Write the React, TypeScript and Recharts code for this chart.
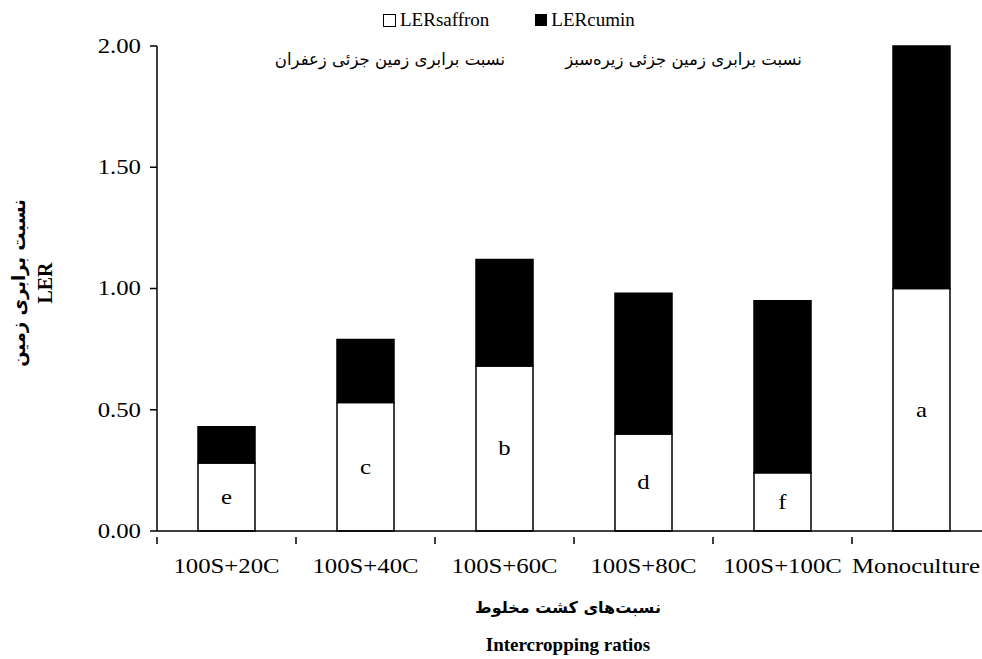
import { Bar, BarChart, LabelList, XAxis, YAxis } from "recharts";

const CATEGORIES = [
  "100S+20C",
  "100S+40C",
  "100S+60C",
  "100S+80C",
  "100S+100C",
  "Monoculture",
];
const LER_SAFFRON = [0.28, 0.53, 0.68, 0.4, 0.24, 1.0];
const LER_CUMIN = [0.15, 0.26, 0.44, 0.58, 0.71, 1.0];
const LETTERS = ["e", "c", "b", "d", "f", "a"];
const Y_TICKS = [0, 0.5, 1, 1.5, 2];

const SERIF = '"Liberation Serif", "Times New Roman", serif';
const PERSIAN = '"DejaVu Sans", "Noto Sans", sans-serif';
// the original figure is stretched sideways a little
const STRETCH = 1.18;
const VISIBLE_WIDTH = 982;

const data = CATEGORIES.map((name, i) => ({
  name,
  saffron: LER_SAFFRON[i],
  cumin: LER_CUMIN[i],
  letter: LETTERS[i],
}));

function WideText({ x, y, anchor, children }: any) {
  return (
    <g transform={`translate(${x},${y}) scale(${STRETCH},1)`}>
      <text
        x={0}
        y={0}
        textAnchor={anchor}
        dominantBaseline="central"
        fontFamily={SERIF}
        fontSize={21}
        fill="#000"
      >
        {children}
      </text>
    </g>
  );
}

// category label centred, tick mark drawn on the left edge of each band
function XTick(props: any) {
  const { x, y, payload, index } = props;
  const half = payload?.offset ?? 69.5;
  const last = index === CATEGORIES.length - 1;
  return (
    <g>
      <line
        x1={x - half}
        x2={x - half}
        y1={y - 2}
        y2={y + 5}
        stroke="#000"
        strokeWidth={1.5}
      />
      {last ? (
        <WideText x={VISIBLE_WIDTH - 2} y={y + 27} anchor="end">
          {payload.value}
        </WideText>
      ) : (
        <WideText x={x} y={y + 27} anchor="middle">
          {payload.value}
        </WideText>
      )}
    </g>
  );
}

function YTick(props: any) {
  const { x, y, payload } = props;
  return (
    <WideText x={x} y={y} anchor="end">
      {Number(payload.value).toFixed(2)}
    </WideText>
  );
}

function LetterLabel(props: any) {
  const { x, y, width, height, value } = props;
  return (
    <WideText x={x + width / 2} y={y + height / 2} anchor="middle">
      {value}
    </WideText>
  );
}

export default function App() {
  return (
    <div
      style={{
        position: "absolute",
        left: 0,
        top: 0,
        width: VISIBLE_WIDTH,
        height: 659,
        overflow: "hidden",
        background: "#fff",
        fontFamily: SERIF,
      }}
    >
      <BarChart
        width={1000}
        height={659}
        data={data}
        margin={{ top: 46, right: 9, bottom: 88, left: 0 }}
        barSize={57}
      >
        <XAxis
          dataKey="name"
          tick={<XTick />}
          tickLine={false}
          axisLine={{ stroke: "#000", strokeWidth: 1.5 }}
          interval={0}
          height={40}
        />
        <YAxis
          width={157}
          domain={[0, 2]}
          ticks={Y_TICKS}
          tickSize={7}
          tickMargin={9}
          tickLine={{ stroke: "#000", strokeWidth: 1.5 }}
          axisLine={{ stroke: "#000", strokeWidth: 1.5 }}
          tick={<YTick />}
        />
        <Bar
          dataKey="saffron"
          stackId="ler"
          fill="#fff"
          stroke="#000"
          strokeWidth={1.5}
          isAnimationActive={false}
        >
          <LabelList dataKey="letter" content={<LetterLabel />} />
        </Bar>
        <Bar
          dataKey="cumin"
          stackId="ler"
          fill="#000"
          stroke="#000"
          strokeWidth={1.5}
          isAnimationActive={false}
        />
      </BarChart>

      {/* legend */}
      <div
        style={{
          position: "absolute",
          top: 9,
          left: 383,
          display: "flex",
          alignItems: "center",
          fontSize: 19,
          lineHeight: "22px",
        }}
      >
        <span
          style={{
            display: "inline-block",
            width: 11,
            height: 11,
            border: "1px solid #000",
            marginRight: 4,
          }}
        />
        <span>LERsaffron</span>
        <span
          style={{
            display: "inline-block",
            width: 12,
            height: 12,
            background: "#000",
            marginLeft: 46,
            marginRight: 4,
          }}
        />
        <span>LERcumin</span>
      </div>
      <div
        dir="rtl"
        style={{
          position: "absolute",
          top: 50,
          left: 265,
          width: 250,
          textAlign: "center",
          fontFamily: PERSIAN,
          fontSize: 16.5,
          whiteSpace: "nowrap",
        }}
      >
        نسبت برابری زمین جزئی زعفران
      </div>
      <div
        dir="rtl"
        style={{
          position: "absolute",
          top: 50,
          left: 545,
          width: 277,
          textAlign: "center",
          fontFamily: PERSIAN,
          fontSize: 16.5,
          whiteSpace: "nowrap",
        }}
      >
        نسبت برابری زمین جزئی زیره‌سبز
      </div>

      {/* y axis title */}
      <div
        style={{
          position: "absolute",
          left: 33 - 110,
          top: 283 - 27,
          width: 220,
          height: 54,
          transform: "rotate(-90deg)",
          textAlign: "center",
          fontWeight: "bold",
          lineHeight: "26px",
        }}
      >
        <div dir="rtl" style={{ fontFamily: PERSIAN, fontSize: 18 }}>
          نسبت برابری زمین
        </div>
        <div style={{ fontSize: 20 }}>LER</div>
      </div>

      {/* x axis title */}
      <div
        style={{
          position: "absolute",
          left: 368,
          top: 594,
          width: 400,
          textAlign: "center",
          fontWeight: "bold",
        }}
      >
        <div
          dir="rtl"
          style={{ fontFamily: PERSIAN, fontSize: 16, lineHeight: "28px" }}
        >
          نسبت‌های کشت مخلوط
        </div>
        <div style={{ fontSize: 19, lineHeight: "30px", marginTop: 8 }}>
          Intercropping ratios
        </div>
      </div>
    </div>
  );
}
